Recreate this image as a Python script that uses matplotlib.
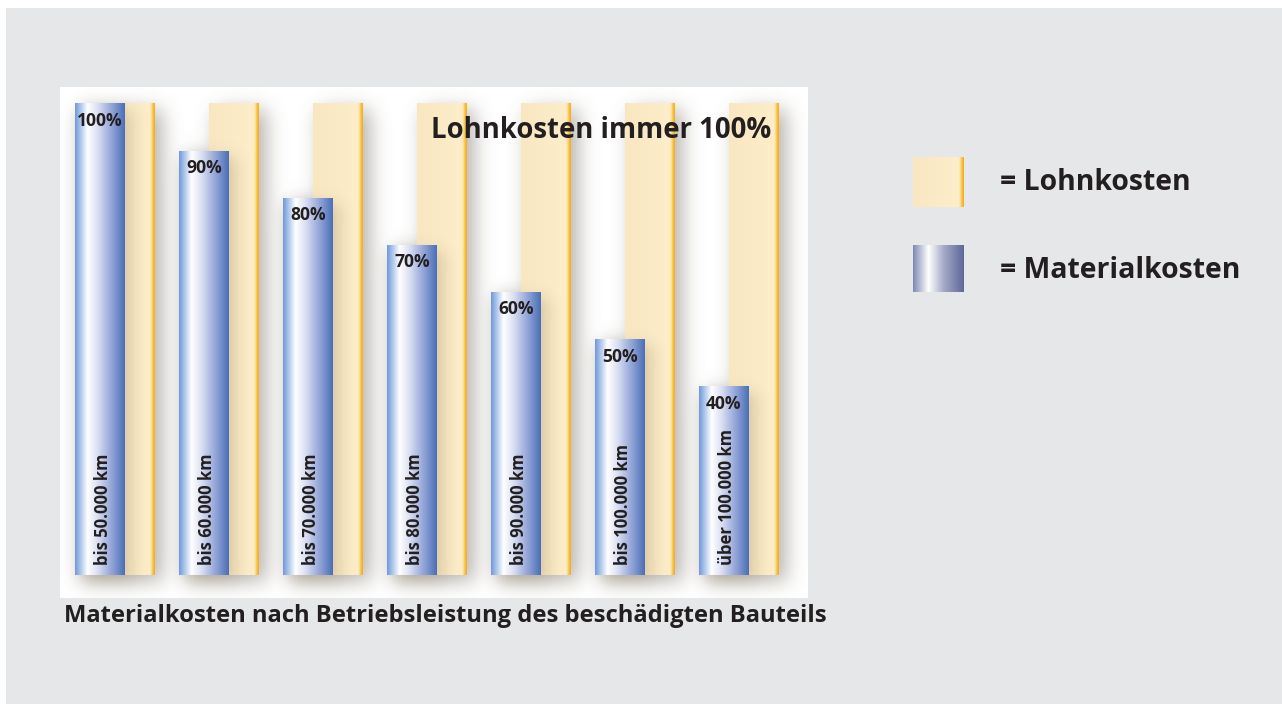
import numpy as np
import matplotlib.pyplot as plt
from matplotlib.colors import LinearSegmentedColormap, to_rgb
from matplotlib.patches import Rectangle

# Daten
kategorien = ["bis 50.000 km", "bis 60.000 km", "bis 70.000 km", "bis 80.000 km",
              "bis 90.000 km", "bis 100.000 km", "über 100.000 km"]
materialkosten = [100, 90, 80, 70, 60, 50, 40]
lohnkosten = [100, 100, 100, 100, 100, 100, 100]
prozent_labels = [f"{v}%" for v in materialkosten]

titel_innen = "Lohnkosten immer 100%"
unterschrift = "Materialkosten nach Betriebsleistung des beschädigten Bauteils"
legende = ["= Lohnkosten", "= Materialkosten"]

FONT = "Open Sans"
W, H = 1282, 704

cmap_material = LinearSegmentedColormap.from_list("material", [
    (0.0, "#7199d8"), (0.12, "#b4caee"), (0.25, "#ffffff"), (0.45, "#dadff2"),
    (0.75, "#8fa2d6"), (1.0, "#4a6fb8")])
cmap_lohn = LinearSegmentedColormap.from_list("lohn", [
    (0.0, "#f9e7c2"), (0.90, "#fdedc9"), (0.93, "#fce0a0"), (0.96, "#fbc445"), (1.0, "#f2ab22")])
cmap_leg_mat = LinearSegmentedColormap.from_list("legmat", [
    (0.0, "#7e88b4"), (0.3, "#ffffff"), (0.6, "#a6abc8"), (1.0, "#5e6898")])


def blur(a, s):
    r = int(3 * s)
    k = np.exp(-0.5 * (np.arange(-r, r + 1) / s) ** 2)
    k /= k.sum()
    a = np.apply_along_axis(lambda m: np.convolve(m, k, mode="same"), 0, a)
    a = np.apply_along_axis(lambda m: np.convolve(m, k, mode="same"), 1, a)
    return a


def grad_bar(ax, x0, x1, y0, y1, cmap, z):
    g = np.linspace(0, 1, 128).reshape(1, -1)
    ax.imshow(g, cmap=cmap, extent=(x0, x1, y0, y1), aspect="auto",
              interpolation="bilinear", zorder=z)


fig = plt.figure(figsize=(W / 100, H / 100), dpi=100)
fig.patch.set_facecolor("white")
fig.patches.append(Rectangle((6 / W, 0), 1 - 6 / W, 1 - 8 / H, transform=fig.transFigure,
                             facecolor="#e6e7e8", edgecolor="none", zorder=-10))

# Hauptachse (weisses Feld)
ax_l, ax_t, ax_w, ax_h = 60, 87, 748, 511
ax = fig.add_axes([ax_l / W, 1 - (ax_t + ax_h) / H, ax_w / W, ax_h / H])
ax.set_facecolor("white")
px_x = 104.0            # Pixel pro Kategorie
px_y = 471.0 / 100      # Pixel pro Prozentpunkt
xlim = ((ax_l - 100) / px_x, (ax_l + ax_w - 100) / px_x)
ylim = ((575 - ax_t - ax_h) / px_y, (575 - ax_t) / px_y)

bw = 50 / px_x
off = 30 / px_x
x = np.arange(len(kategorien))

# Schatten
xs = np.linspace(xlim[0], xlim[1], ax_w)
ys = np.linspace(ylim[1], ylim[0], ax_h)
dx, dy = 7 / px_x, 6 / px_y


def schatten(rects, sigma, alpha, z, farbe="#6e665a"):
    m = np.zeros((ax_h, ax_w))
    for x0, x1, top in rects:
        cx = (xs >= x0 + dx) & (xs <= x1 + dx)
        cy = (ys >= -dy) & (ys <= top - dy)
        m[np.ix_(cy, cx)] = 1.0
    b = blur(m, sigma)
    rgba = np.zeros((ax_h, ax_w, 4))
    rgba[..., :3] = to_rgb(farbe)
    rgba[..., 3] = alpha * b
    ax.imshow(rgba, extent=(xlim[0], xlim[1], ylim[0], ylim[1]), aspect="auto",
              interpolation="bilinear", zorder=z)


lohn_rects = [(i - bw / 2 + off, i + bw / 2 + off, v) for i, v in zip(x, lohnkosten)]
mat_rects = [(i - bw / 2, i + bw / 2, v) for i, v in zip(x, materialkosten)]
schatten(lohn_rects + mat_rects, 10, 0.5, 1)
for x0, x1, top in lohn_rects:
    grad_bar(ax, x0, x1, 0, top, cmap_lohn, 2)
schatten(mat_rects, 8, 0.28, 3, "#8a7450")
for x0, x1, top in mat_rects:
    grad_bar(ax, x0, x1, 0, top, cmap_material, 4)

for i, v, lab, kat in zip(x, materialkosten, prozent_labels, kategorien):
    ax.text(i, v - 17 / px_y, lab, ha="center", va="center", fontsize=12.6,
            fontweight="bold", family=FONT, color="#231f20", zorder=5)
    ax.text(i + 3 / px_x, 10 / px_y, kat, ha="center", va="bottom", rotation=90,
            fontsize=12.0, fontweight="bold", family=FONT, color="#231f20", zorder=5)

ax.set_xlim(*xlim)
ax.set_ylim(*ylim)
ax.set_xticks([])
ax.set_yticks([])
for s in ax.spines.values():
    s.set_visible(False)

fig.text(431 / W, 1 - 130 / H, titel_innen, ha="left", va="center", fontsize=19.8,
         fontweight="bold", family=FONT, color="#231f20", zorder=10)
fig.text(64 / W, 1 - 616 / H, unterschrift, ha="left", va="center", fontsize=17.1,
         fontweight="bold", family=FONT, color="#231f20")

# Legende
ax_leg1 = fig.add_axes([913 / W, 1 - 207 / H, 50 / W, 50 / H])
ax_leg1.imshow(np.linspace(0, 1, 128).reshape(1, -1), cmap=cmap_lohn, aspect="auto",
               extent=(0, 1, 0, 1))
ax_leg1.axis("off")
ax_leg2 = fig.add_axes([913 / W, 1 - 292 / H, 50 / W, 47 / H])
ax_leg2.imshow(np.linspace(0, 1, 128).reshape(1, -1), cmap=cmap_leg_mat, aspect="auto",
               extent=(0, 1, 0, 1))
ax_leg2.axis("off")
for ty, txt in zip([183, 270], legende):
    fig.text(1000 / W, 1 - ty / H, txt, ha="left", va="center", fontsize=20.4,
             fontweight="bold", family=FONT, color="#231f20")

fig.savefig("out.png", dpi=100)
